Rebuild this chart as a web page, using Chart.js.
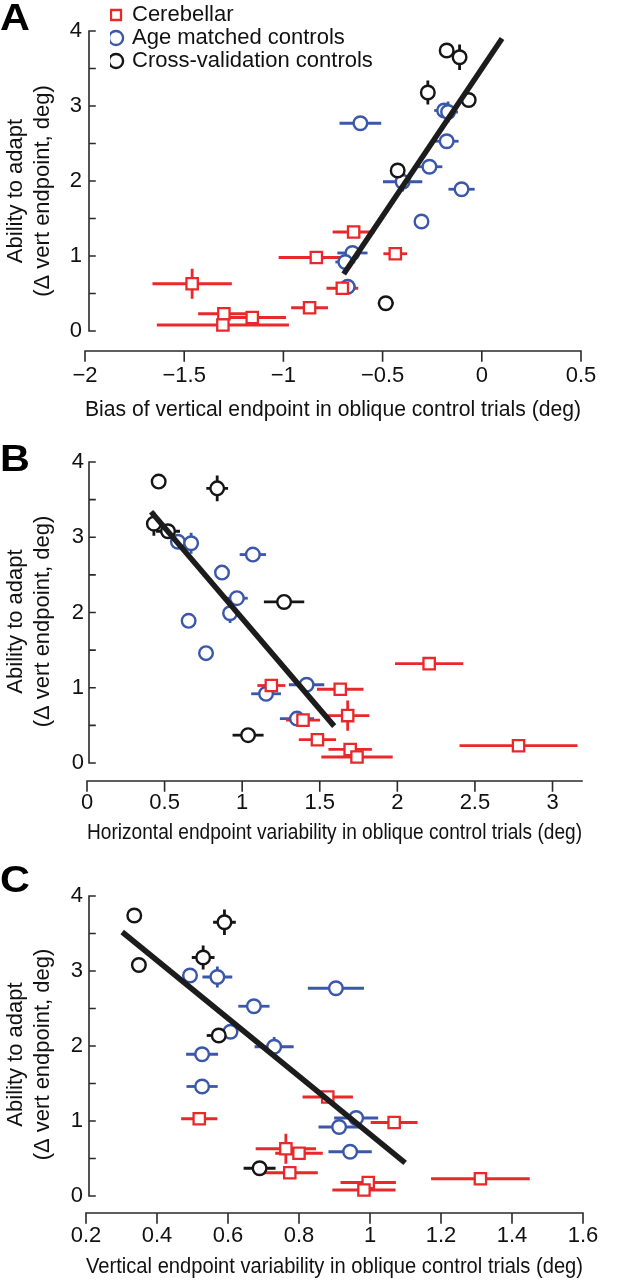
<!DOCTYPE html>
<html><head><meta charset="utf-8">
<script src="https://cdn.jsdelivr.net/npm/chart.js@4.4.1/dist/chart.umd.min.js"></script>
<style>
html,body{margin:0;padding:0;background:#fff;}
#wrap{position:relative;width:627px;height:1280px;overflow:hidden;}
canvas{position:absolute;}
.lab{position:absolute;left:0;font:bold 36px "Liberation Sans",Arial,sans-serif;line-height:1;color:#000;transform:scaleX(1.15);transform-origin:left top;}
</style></head><body>
<div id="wrap">
<canvas id="cA" width="627" height="425" style="left:0;top:0"></canvas>
<canvas id="cB" width="627" height="425" style="left:0;top:425px"></canvas>
<canvas id="cC" width="627" height="430" style="left:0;top:850px"></canvas>
<canvas id="cL" width="300" height="170" style="left:110px;top:3px"></canvas>
<div class="lab" style="top:0px">A</div>
<div class="lab" style="top:441px">B</div>
<div class="lab" style="top:862px">C</div>
</div>
<script>
// ---------------- data ----------------
const groupNames = ['Cerebellar', 'Age matched controls', 'Cross-validation controls'];

// Ability to adapt (shared by all panels)
const yRed      = [1.32, 1.03, 0.98, 0.63, 0.57, 0.31, 0.23, 0.18, 0.08];
const yRedErr   = [0, 0, 0, 0.2, 0, 0, 0, 0, 0];
const yBlue     = [2.94, 2.92, 2.77, 2.53, 2.19, 1.99, 1.89, 1.46, 1.04, 0.92, 0.59];
const yBlueErr  = [0, 0.14, 0, 0, 0, 0.13, 0, 0, 0, 0, 0];
const yBlack    = [3.74, 3.65, 3.18, 3.08, 2.14, 0.37];
const yBlackErr = [0, 0.17, 0.16, 0.09, 0, 0];

// Panel A: bias of vertical endpoint
const aRedX      = [-0.646, -0.436, -0.834, -1.46, -0.703, -0.868, -1.30, -1.157, -1.305];
const aRedXErr   = [0.106, 0.06, 0.19, 0.2, 0.08, 0.093, 0.13, 0.17, 0.333];
const aBlueX     = [-0.19, -0.17, -0.612, -0.177, -0.264, -0.399, -0.102, -0.304, -0.652, -0.688, -0.676];
const aBlueXErr  = [0.05, 0.05, 0.105, 0.06, 0.065, 0.099, 0.066, 0.03, 0.076, 0.05, 0.04];
const aBlackX    = [-0.177, -0.112, -0.272, -0.066, -0.424, -0.484];
const aBlackXErr = [0.02, 0.03, 0.02, 0.03, 0.03, 0.04];
const aFitX = [-0.696, 0.102];
const aFitY = [0.76, 3.90];

// Panel B: horizontal endpoint variability
const bRedX      = [2.205, 1.188, 1.632, 1.68, 1.392, 1.485, 2.781, 1.696, 1.740];
const bRedXErr   = [0.22, 0.09, 0.15, 0.14, 0.11, 0.12, 0.38, 0.14, 0.23];
const bBlueX     = [0.586, 0.671, 1.069, 0.870, 0.966, 0.922, 0.655, 0.767, 1.415, 1.154, 1.353];
const bBlueXErr  = [0.03, 0.03, 0.085, 0.04, 0.07, 0.03, 0.02, 0.03, 0.114, 0.096, 0.11];
const bBlackX    = [0.462, 0.839, 0.431, 0.522, 1.270, 1.038];
const bBlackXErr = [0.04, 0.07, 0.03, 0.077, 0.13, 0.10];
const bFitX = [0.413, 1.593];
const bFitY = [3.34, 0.49];

// Panel C: vertical endpoint variability
const cRedX      = [0.881, 0.519, 1.068, 0.763, 0.800, 0.774, 1.311, 0.995, 0.983];
const cRedXErr   = [0.071, 0.051, 0.066, 0.085, 0.067, 0.079, 0.139, 0.078, 0.089];
const cBlueX     = [0.493, 0.570, 0.904, 0.673, 0.607, 0.730, 0.527, 0.527, 0.961, 0.913, 0.944];
const cBlueXErr  = [0.02, 0.042, 0.079, 0.044, 0.02, 0.055, 0.045, 0.044, 0.062, 0.058, 0.061];
const cBlackX    = [0.336, 0.590, 0.530, 0.349, 0.574, 0.689];
const cBlackXErr = [0, 0.032, 0.032, 0, 0.034, 0.045];
const cFitX = [0.302, 1.099];
const cFitY = [3.52, 0.44];

// ticks
const yTicks      = [0, 0.5, 1, 1.5, 2, 2.5, 3, 3.5, 4];
const yTickLabels = ['0', '', '1', '', '2', '', '3', '', '4'];
const aXTicks  = [-2, -1.5, -1, -0.5, 0, 0.5];
const aXLabels = ['\u22122', '\u22121.5', '\u22121', '\u22120.5', '0', '0.5'];
const bXTicks  = [0, 0.5, 1, 1.5, 2, 2.5, 3];
const bXLabels = ['0', '0.5', '1', '1.5', '2', '2.5', '3'];
const cXTicks  = [0.2, 0.4, 0.6, 0.8, 1, 1.2, 1.4, 1.6];
const cXLabels = ['0.2', '0.4', '0.6', '0.8', '1', '1.2', '1.4', '1.6'];

const yTitle = ['Ability to adapt', '(\u0394 vert endpoint, deg)'];
const aXTitle = 'Bias of vertical endpoint in oblique control trials (deg)';
const bXTitle = 'Horizontal endpoint variability in oblique control trials (deg)';
const cXTitle = 'Vertical endpoint variability in oblique control trials (deg)';

// ---------------- style ----------------
const FONT = '"Liberation Sans", Arial, Helvetica, sans-serif';
Chart.defaults.font.family = FONT;
const RED = '#e8282a', BLUE = '#3a57a9', BLACK = '#151515', TXT = '#111';

const pts = (xs, ys) => xs.map((x, i) => ({x: x, y: ys[i]}));

const errPlugin = {
  id: 'errBars',
  beforeDatasetsDraw(chart) {
    const ctx = chart.ctx, xs = chart.scales.x, ys = chart.scales.y;
    const list = chart.data.datasets.slice().reverse();
    list.forEach(ds => {
      if (!ds.errX) return;
      ctx.save();
      ctx.strokeStyle = ds.borderColor; ctx.lineWidth = 2.8; ctx.lineCap = 'butt';
      ds.data.forEach((p, j) => {
        const px = xs.getPixelForValue(p.x), py = ys.getPixelForValue(p.y);
        const ex = ds.errX[j], ey = ds.errY[j];
        ctx.beginPath();
        if (ex) { ctx.moveTo(xs.getPixelForValue(p.x - ex), py); ctx.lineTo(xs.getPixelForValue(p.x + ex), py); }
        if (ey) { ctx.moveTo(px, ys.getPixelForValue(p.y - ey)); ctx.lineTo(px, ys.getPixelForValue(p.y + ey)); }
        ctx.stroke();
      });
      ctx.restore();
    });
  }
};

const axesPlugin = {
  id: 'matlabAxes',
  beforeDatasetsDraw(chart, args, o) {
    const ctx = chart.ctx, xs = chart.scales.x, ys = chart.scales.y, ca = chart.chartArea;
    ctx.save();
    ctx.strokeStyle = '#2a2a2a'; ctx.lineWidth = 1.6; ctx.lineCap = 'square';
    ctx.beginPath();
    const yb = ca.bottom;
    ctx.moveTo(xs.getPixelForValue(xs.min), yb); ctx.lineTo(xs.getPixelForValue(xs.max), yb);
    xs.ticks.forEach(t => { const p = xs.getPixelForValue(t.value); ctx.moveTo(p, yb); ctx.lineTo(p, yb + o.xTickLen); });
    const xl = ca.left + o.yOffset;
    ctx.moveTo(xl, ys.getPixelForValue(4)); ctx.lineTo(xl, ys.getPixelForValue(0));
    ys.ticks.forEach(t => { const p = ys.getPixelForValue(t.value); ctx.moveTo(xl, p); ctx.lineTo(xl + o.yTickLen, p); });
    ctx.stroke();
    ctx.restore();
  }
};

function groupSets(rx, rxe, bx, bxe, kx, kxe, fx, fy) {
  return [
    {label: 'fit', data: pts(fx, fy), showLine: true, borderColor: '#1c1c1c', borderWidth: 5.5, pointRadius: 0, fill: false},
    {label: groupNames[0], data: pts(rx, yRed), errX: rxe, errY: yRedErr, pointStyle: 'rect', pointRadius: 8,
     borderColor: RED, backgroundColor: '#fff', borderWidth: 2.3},
    {label: groupNames[2], data: pts(kx, yBlack), errX: kxe, errY: yBlackErr, pointStyle: 'circle', pointRadius: 6.8,
     borderColor: BLACK, backgroundColor: '#fff', borderWidth: 2.4},
    {label: groupNames[1], data: pts(bx, yBlue), errX: bxe, errY: yBlueErr, pointStyle: 'circle', pointRadius: 6.8,
     borderColor: BLUE, backgroundColor: '#fff', borderWidth: 2.4}
  ];
}

function panel(id, sets, p) {
  return new Chart(document.getElementById(id), {
    type: 'scatter',
    data: {datasets: sets},
    options: {
      responsive: false, animation: false, events: [],
      layout: {padding: {top: p.top, right: p.right, bottom: 0, left: 0}},
      plugins: {legend: {display: false}, tooltip: {enabled: false},
        matlabAxes: {xTickLen: 10, yTickLen: 6, yOffset: p.yOff}},
      scales: {
        x: {type: 'linear', min: p.xMin, max: p.xMax,
          grid: {display: false, drawTicks: false}, border: {display: false},
          afterBuildTicks: s => { s.ticks = p.xTicks.map(v => ({value: v})); },
          afterFit: s => { s.height = p.xH; },
          ticks: {autoSkip: false, maxRotation: 0, padding: p.xLabPad, color: TXT, font: {size: 22},
            callback: (v, i) => p.xLabels[i]},
          title: {display: true, text: p.xTitle, color: TXT, font: {size: 22, lineHeight: 1.2},
            padding: {top: 0, bottom: p.xTitlePad}}},
        y: {type: 'linear', min: p.yMin, max: 4,
          grid: {display: false, drawTicks: false}, border: {display: false},
          afterBuildTicks: s => { s.ticks = yTicks.map(v => ({value: v})); },
          afterFit: s => { s.width = p.left; },
          ticks: {autoSkip: false, padding: 3, color: TXT, font: {size: 22},
            callback: (v, i) => yTickLabels[i]},
          title: {display: true, text: yTitle, color: TXT, font: {size: 22, lineHeight: 1.2},
            padding: {top: 3, bottom: 0}}}
      }
    },
    plugins: [errPlugin, axesPlugin]
  });
}

panel('cA', groupSets(aRedX, aRedXErr, aBlueX, aBlueXErr, aBlackX, aBlackXErr, aFitX, aFitY), {
  top: 31, right: 627 - 581, left: 85, xH: 425 - 351, xMin: -2, xMax: 0.5, yMin: -0.267,
  xTicks: aXTicks, xLabels: aXLabels, xTitle: aXTitle, xLabPad: 12, xTitlePad: 2, yOff: 4});
panel('cB', groupSets(bRedX, bRedXErr, bBlueX, bBlueXErr, bBlackX, bBlackXErr, bFitX, bFitY), {
  top: 37, right: 627 - 582, left: 87, xH: 425 - 356, xMin: 0, xMax: 3.19, yMin: -0.239,
  xTicks: bXTicks, xLabels: bXLabels, xTitle: bXTitle, xLabPad: 9, xTitlePad: 4, yOff: 2});
panel('cC', groupSets(cRedX, cRedXErr, cBlueX, cBlueXErr, cBlackX, cBlackXErr, cFitX, cFitY), {
  top: 46, right: 627 - 583, left: 86, xH: 430 - 363, xMin: 0.2, xMax: 1.6, yMin: -0.227,
  xTicks: cXTicks, xLabels: cXLabels, xTitle: cXTitle, xLabPad: 10, xTitlePad: 0, yOff: 3});

// legend (its own small chart, no data)
new Chart(document.getElementById('cL'), {
  type: 'scatter',
  data: {datasets: [
    {label: groupNames[0], data: [], pointStyle: 'rect', borderColor: RED, backgroundColor: '#fff', borderWidth: 2.3},
    {label: groupNames[1], data: [], pointStyle: 'circle', borderColor: BLUE, backgroundColor: '#fff', borderWidth: 2.4},
    {label: groupNames[2], data: [], pointStyle: 'circle', borderColor: BLACK, backgroundColor: '#fff', borderWidth: 2.4}
  ]},
  options: {
    responsive: false, animation: false, events: [],
    layout: {padding: 0},
    scales: {x: {display: false}, y: {display: false}},
    plugins: {tooltip: {enabled: false},
      legend: {display: true, position: 'top', align: 'start',
        labels: {usePointStyle: true, boxWidth: 10, boxHeight: 10, padding: 1, color: TXT, font: {size: 22}}}}
  }
});
</script>
</body></html>
